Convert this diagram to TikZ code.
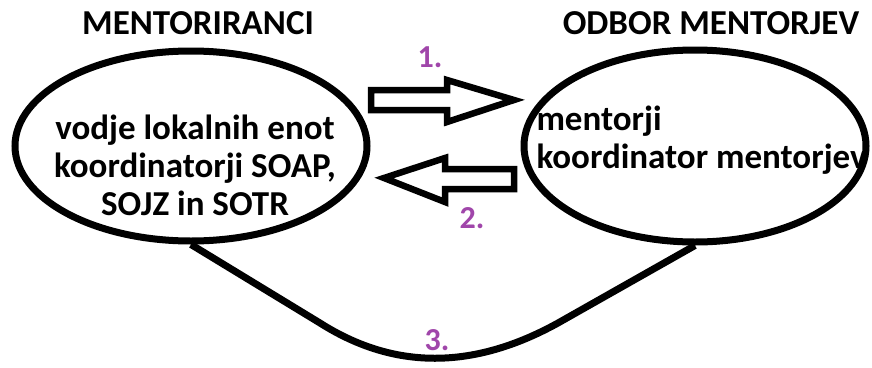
\documentclass[tikz,border=0pt]{standalone}
\usepackage{fontspec}
\setmainfont{Carlito}
\usetikzlibrary{shapes.geometric}
\definecolor{vijola}{RGB}{160,70,170}

\begin{document}
\begin{tikzpicture}[x=1pt, y=-1pt, font=\fontsize{35}{38}\selectfont\bfseries,
        krog/.style={ellipse, draw, line width=7pt, inner sep=0pt},
        puscica/.style={line width=6.5pt, line join=miter},
        stevilka/.style={text=vijola, font=\fontsize{32}{34}\selectfont\bfseries}]
        \useasboundingbox (0,0) rectangle (872,367);

        % naslova
        \node (mentoriranci) at (198,23) {MENTORIRANCI};
        \node (odbor) at (711,23) {ODBOR MENTORJEV};

        % elipsi
        \node[krog, minimum width=352pt, minimum height=190pt] (levo) at (191,146) {};
        \node[krog, minimum width=342pt, minimum height=192pt] (desno) at (695,146) {};

        \node[align=center] (vodje) at (195,165) {vodje lokalnih enot\\koordinatorji SOAP,\\SOJZ in SOTR};
        \node[align=left, anchor=west] (mentorji) at (533,140) {mentorji\\koordinator mentorjev};

        % puscici
        \draw[puscica] (371,90) -- (447,90) -- (447,80) -- (514,100) -- (447,122) -- (447,110) -- (371,110) -- cycle;
        \draw[puscica] (514,169) -- (445,169) -- (445,158) -- (384,178) -- (445,202) -- (445,189) -- (514,189) -- cycle;

        \node[stevilka] (ena) at (430,57) {1.};
        \node[stevilka] (dve) at (472,218) {2.};

        % spodnja povezava
        \draw[line width=7pt] (levo.south) -- (320,323) .. controls (394,370) and (473,370) .. (558,323) -- (desno.south);
        \node[stevilka] (tri) at (437,340) {3.};
\end{tikzpicture}
\end{document}
